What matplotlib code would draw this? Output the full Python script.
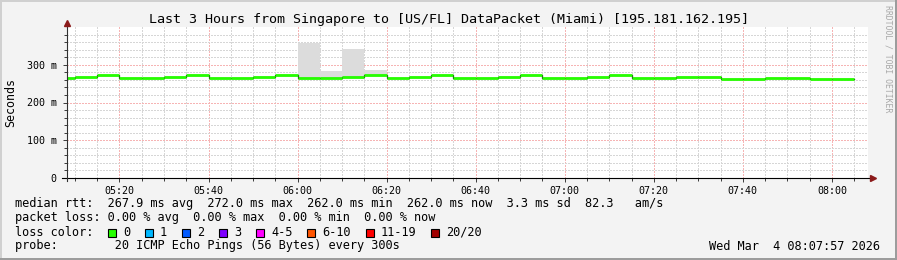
import matplotlib.pyplot as plt
from matplotlib.patches import Rectangle
from matplotlib.lines import Line2D

# SmokePing style latency graph, last 3 hours

W, H = 897, 260
MONO = "DejaVu Sans Mono"

# 5 minute slots (start time) and median rtt in ms
slot_starts = ["05:05", "05:10", "05:15", "05:20", "05:25", "05:30", "05:35",
               "05:40", "05:45", "05:50", "05:55", "06:00", "06:05", "06:10",
               "06:15", "06:20", "06:25", "06:30", "06:35", "06:40", "06:45",
               "06:50", "06:55", "07:00", "07:05", "07:10", "07:15", "07:20",
               "07:25", "07:30", "07:35", "07:40", "07:45", "07:50", "07:55",
               "08:00"]
median_ms = [264, 268, 272, 264, 264, 268, 272,
             264, 264, 268, 272, 264, 264, 268,
             272, 264, 268, 272, 264, 264, 268,
             272, 264, 264, 268, 272, 264, 264,
             268, 268, 262, 262, 266, 266, 262,
             262]

# slots where the smoke (ping spread) is visible
smoke_starts = ["06:00", "06:05", "06:10", "06:15"]
smoke_low = [262, 262, 266, 270]
smoke_high = [358, 284, 342, 286]

x_start, x_end = "05:08", "08:08"
y_ticks = [0, 100, 200, 300]
y_tick_labels = ["0", "100 m", "200 m", "300 m"]

title = "Last 3 Hours from Singapore to [US/FL] DataPacket (Miami) [195.181.162.195]"
rtt_line = "median rtt:  267.9 ms avg  272.0 ms max  262.0 ms min  262.0 ms now  3.3 ms sd  82.3   am/s"
loss_line = "packet loss: 0.00 % avg  0.00 % max  0.00 % min  0.00 % now"
probe_line = "probe:        20 ICMP Echo Pings (56 Bytes) every 300s"
stamp = "Wed Mar  4 08:07:57 2026"

loss_labels = ["0", "1", "2", "3", "4-5", "6-10", "11-19", "20/20"]
loss_colors = ["#26ff00", "#00b8ff", "#0059ff", "#7e00ff",
               "#ff00ff", "#ff5500", "#ff0000", "#a10000"]
loss_box_x = [108, 145, 182, 219, 256, 307, 366, 431]


def to_min(t):
    h, m = t.split(":")
    return int(h) * 60 + int(m)


def fx(px):
    return px / W


def fy(py):
    return 1 - py / H


fig = plt.figure(figsize=(W / 100, H / 100), dpi=100, facecolor="#f3f3f3")
ax = fig.add_axes([fx(66.5), fy(178), (867.5 - 66.5) / W, (178 - 27) / H])
ax.set_facecolor("white")

starts = [to_min(t) for t in slot_starts]
ends = [s + 5 for s in starts]

# smoke
sm = [to_min(t) for t in smoke_starts]
ax.bar(sm, [h - l for h, l in zip(smoke_high, smoke_low)], bottom=smoke_low,
       width=5, align="edge", color="#dcdcdc", linewidth=0, zorder=2)

# median: thin dark steps + green segments
ax.step(starts + [ends[-1]], median_ms + [median_ms[-1]], where="post",
        color="#202020", lw=0.9, zorder=3)
ax.hlines(median_ms, starts, ends, colors=loss_colors[0], lw=2.0, zorder=4)

ax.set_xlim(to_min(x_start) + 0.1, to_min(x_end))
ax.set_ylim(0, 400)

# grid
ax.set_xticks(range(to_min("05:10"), to_min(x_end) + 1, 5), minor=True)
ax.set_xticks(range(to_min("05:20"), to_min(x_end), 20))
ax.set_xticklabels(["%02d:%02d" % (m // 60, m % 60) for m in ax.get_xticks()])
ax.set_yticks(range(20, 400, 20), minor=True)
ax.set_yticks(y_ticks)
ax.set_yticklabels(y_tick_labels)

ax.grid(which="minor", color="#d6d6d6", lw=1.0, ls=(0, (1, 1)), zorder=1,
        antialiased=False)
ax.grid(which="major", color="#f6b4b4", lw=1.0, ls=(0, (1, 1)), zorder=1,
        antialiased=False)
ax.set_axisbelow(True)

for s in ax.spines.values():
    s.set_visible(False)

ax.tick_params(which="both", direction="out", color="#404040", width=0.72,
               labelsize=7.2, labelcolor="#000000")
ax.tick_params(which="major", length=3)
ax.tick_params(which="minor", length=2)
ax.tick_params(axis="x", which="major", pad=3)
ax.tick_params(axis="y", which="major", pad=4)
for lab in ax.get_xticklabels() + ax.get_yticklabels():
    lab.set_family(MONO)

# axis lines with arrow heads
fig.add_artist(Line2D([fx(62), fx(871)], [fy(178), fy(178)], color="black", lw=0.8))
fig.add_artist(Line2D([fx(66.5), fx(66.5)], [fy(181), fy(23)], color="#303030", lw=0.8))
fig.add_artist(Line2D([fx(873)], [fy(178)], marker=">", ms=4.5, color="#8b1a1a", lw=0))
fig.add_artist(Line2D([fx(66.5)], [fy(22.5)], marker="^", ms=4.5, color="#8b1a1a", lw=0))

# texts
fig.text(0.5, fy(19), title, ha="center", va="center", family=MONO, fontsize=9.6)
fig.text(fx(11), fy(102.5), "Seconds", rotation=90, ha="center", va="center",
         family=MONO, fontsize=8.4)
fig.text(fx(888), fy(5), "RRDTOOL / TOBI OETIKER", rotation=270, ha="center",
         va="top", family=MONO, fontsize=5.9, color="#a8a8a8")

fig.text(fx(15), fy(204), rtt_line, va="center", family=MONO, fontsize=8.55)
fig.text(fx(15), fy(218), loss_line, va="center", family=MONO, fontsize=8.55)
fig.text(fx(15), fy(232), "loss color:", va="center", family=MONO, fontsize=8.55)
for bx, lab, col in zip(loss_box_x, loss_labels, loss_colors):
    fig.add_artist(Rectangle((fx(bx), fy(237)), 8 / W, 8 / H, facecolor=col,
                             edgecolor="black", lw=0.8, transform=fig.transFigure))
    fig.text(fx(bx + 15), fy(232), lab, va="center", family=MONO, fontsize=8.55)
fig.text(fx(15), fy(246), probe_line, va="center", family=MONO, fontsize=8.55)
fig.text(fx(880), fy(246), stamp, ha="right", va="center", family=MONO, fontsize=8.55)

# bevelled frame
fig.add_artist(Rectangle((0, fy(2)), 1, 2 / H, color="#d0d0d0", lw=0, transform=fig.transFigure))
fig.add_artist(Rectangle((0, 0), 2 / W, 1, color="#d0d0d0", lw=0, transform=fig.transFigure))
fig.add_artist(Rectangle((0, 0), 1, 2 / H, color="#9c9c9c", lw=0, transform=fig.transFigure))
fig.add_artist(Rectangle((fx(895), 0), 2 / W, 1, color="#9c9c9c", lw=0, transform=fig.transFigure))

fig.savefig("out.png", dpi=100, facecolor=fig.get_facecolor())
